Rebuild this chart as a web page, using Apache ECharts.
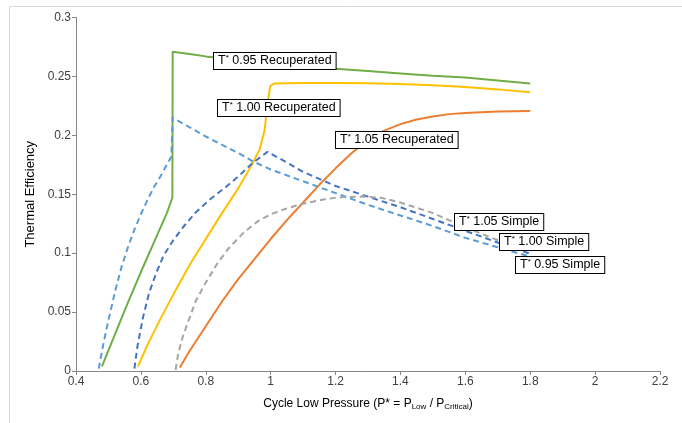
<!DOCTYPE html>
<html>
<head>
<meta charset="utf-8">
<script src="https://cdn.jsdelivr.net/npm/echarts@6/dist/echarts.min.js"></script>
<style>
  html, body { margin: 0; padding: 0; background: #fff; }
  #chart { width: 682px; height: 423px; }
</style>
</head>
<body>
<div id="chart"></div>
<script>
// curves, [P*, efficiency]
var rec095 = [[0.48,0.004],[0.52,0.031],[0.56,0.058],[0.6,0.084],[0.64,0.109],[0.68,0.134],[0.697,0.147],
  [0.698,0.271],[0.75,0.269],[0.8,0.267],[0.9,0.264],[1.0,0.261],[1.1,0.259],[1.2,0.2565],[1.3,0.2545],
  [1.4,0.2525],[1.5,0.2505],[1.6,0.249],[1.7,0.2465],[1.8,0.244]];
var rec100 = [[0.591,0.004],[0.62,0.022],[0.66,0.044],[0.7,0.065],[0.75,0.09],[0.8,0.112],[0.85,0.134],
  [0.9,0.155],[0.94,0.174],[0.966,0.188],[0.981,0.204],[0.992,0.23],[0.999,0.242],[1.012,0.244],
  [1.1,0.2445],[1.2,0.2445],[1.3,0.2442],[1.4,0.2435],[1.5,0.2425],[1.6,0.241],[1.7,0.239],[1.8,0.2365]];
var rec105 = [[0.72,0.003],[0.75,0.017],[0.8,0.038],[0.85,0.059],[0.9,0.078],[0.95,0.095],[1.0,0.112],
  [1.05,0.128],[1.1,0.143],[1.15,0.158],[1.2,0.172],[1.25,0.185],[1.3,0.196],[1.35,0.204],[1.4,0.2095],
  [1.45,0.2135],[1.5,0.216],[1.55,0.218],[1.6,0.219],[1.7,0.2203],[1.8,0.2207]];
var simp095 = [[0.47,0.002],[0.485,0.024],[0.5,0.043],[0.52,0.067],[0.54,0.088],[0.56,0.105],[0.58,0.12],
  [0.6,0.133],[0.62,0.145],[0.64,0.156],[0.66,0.165],[0.68,0.175],[0.694,0.182],[0.698,0.215],
  [0.8,0.199],[0.9,0.185],[0.945,0.178],[1.0,0.171],[1.1,0.161],[1.2,0.151],[1.3,0.141],[1.4,0.132],
  [1.5,0.123],[1.6,0.113],[1.7,0.105],[1.8,0.097]];
var simp100 = [[0.58,0.002],[0.59,0.022],[0.607,0.046],[0.625,0.066],[0.647,0.083],[0.67,0.098],
  [0.7,0.111],[0.73,0.122],[0.767,0.134],[0.81,0.145],[0.861,0.156],[0.9,0.165],[0.942,0.176],
  [0.99,0.186],[1.05,0.177],[1.1,0.169],[1.2,0.157],[1.3,0.148],[1.4,0.139],[1.5,0.129],[1.6,0.119],
  [1.7,0.109],[1.8,0.0995]];
var simp105 = [[0.707,0.001],[0.715,0.015],[0.73,0.03],[0.75,0.045],[0.77,0.06],[0.8,0.075],[0.835,0.091],
  [0.87,0.104],[0.915,0.117],[0.96,0.127],[1.0,0.133],[1.05,0.138],[1.1,0.142],[1.17,0.146],[1.22,0.1475],
  [1.28,0.148],[1.34,0.147],[1.4,0.143],[1.5,0.134],[1.6,0.122],[1.7,0.111],[1.8,0.101]];

var seriesNames = ['T* 0.95 Recuperated','T* 1.00 Recuperated','T* 1.05 Recuperated',
  'T* 0.95 Simple','T* 1.00 Simple','T* 1.05 Simple'];
var seriesData = [rec095, rec100, rec105, simp095, simp100, simp105];
var colors = ['#70AD47','#FFC000','#ED7D31','#5B9BD5','#4472C4','#A5A5A5'];
var dashed = [false, false, false, true, true, true];

// annotation boxes: [temperature, kind, left px, top px]
var notes = [
  ['0.95', 'Recuperated', 213, 52],
  ['1.00', 'Recuperated', 217, 99],
  ['1.05', 'Recuperated', 335, 131],
  ['1.05', 'Simple', 454, 213],
  ['1.00', 'Simple', 499, 233],
  ['0.95', 'Simple', 515, 256]
];

var chart = echarts.init(document.getElementById('chart'));

var series = seriesData.map(function (d, i) {
  return {
    name: seriesNames[i],
    type: 'line',
    data: d,
    showSymbol: false,
    symbol: 'none',
    smooth: false,
    z: dashed[i] ? 3 : 2,
    lineStyle: { color: colors[i], width: 2, type: dashed[i] ? [6, 4] : 'solid' }
  };
});

var labelFont = '"Liberation Sans", Arial, sans-serif';
var graphics = [{
  type: 'rect',
  shape: { x: 9.5, y: 6.5, width: 700, height: 430 },
  style: { fill: 'none', stroke: '#d9d9d9', lineWidth: 1 },
  silent: true, z: 0
}];
notes.forEach(function (n) {
  graphics.push({
    type: 'text',
    left: n[2],
    top: n[3],
    z: 100,
    style: {
      text: '{t|T}{s|*}{t| ' + n[0] + ' ' + n[1] + '}',
      backgroundColor: '#fff',
      borderColor: '#000',
      borderWidth: 1,
      padding: [1, 4, 1, 4],
      rich: {
        t: { fontSize: 12.5, fontFamily: labelFont, fill: '#000', lineHeight: 14 },
        s: { fontSize: 8, fontFamily: labelFont, fill: '#000', verticalAlign: 'top', lineHeight: 14 }
      }
    }
  });
});

var axisFont = '"Liberation Sans", Arial, sans-serif';
var option = {
  animation: false,
  backgroundColor: '#fff',
  grid: { left: 76, right: 22, top: 17.5, bottom: 52 },
  xAxis: {
    type: 'value',
    min: 0.4, max: 2.2, interval: 0.2,
    name: 'Cycle Low Pressure (P* = P{sub|Low} / P{sub|Critical})',
    nameLocation: 'middle',
    nameGap: 26,
    nameTextStyle: {
      color: '#000', fontSize: 12, fontFamily: axisFont,
      rich: { sub: { fontSize: 8, fontFamily: axisFont, color: '#000', verticalAlign: 'bottom', padding: [6, 0, 0, 0] } }
    },
    axisLine: { lineStyle: { color: '#868686', width: 1 } },
    axisTick: { show: true, length: 4, lineStyle: { color: '#868686' } },
    axisLabel: { color: '#404040', fontSize: 12, fontFamily: axisFont, margin: 5 },
    splitLine: { show: false }
  },
  yAxis: {
    type: 'value',
    min: 0, max: 0.3, interval: 0.05,
    name: 'Thermal Efficiency',
    nameLocation: 'middle',
    nameGap: 38,
    nameTextStyle: { color: '#000', fontSize: 13, fontFamily: axisFont },
    axisLine: { show: true, lineStyle: { color: '#868686', width: 1 } },
    axisTick: { show: true, length: 4, lineStyle: { color: '#868686' } },
    axisLabel: { color: '#404040', fontSize: 12, fontFamily: axisFont, margin: 5 },
    splitLine: { show: false }
  },
  series: series,
  graphic: graphics
};

chart.setOption(option);
</script>
</body>
</html>
